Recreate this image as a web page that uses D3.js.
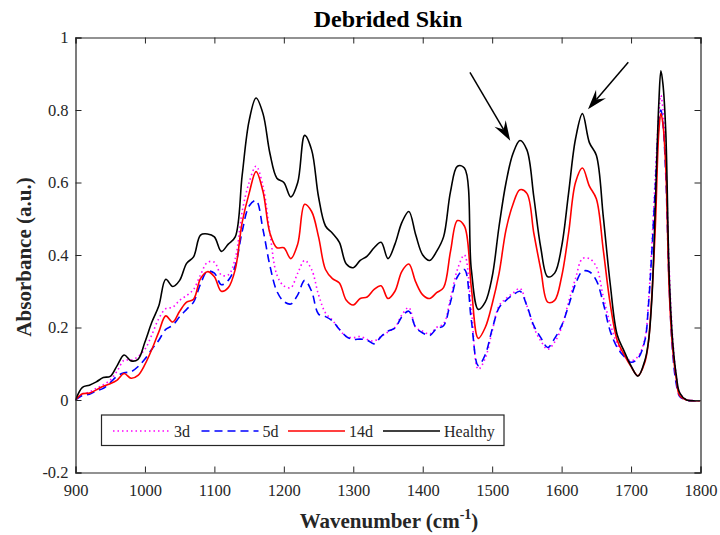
<!DOCTYPE html>
<html>
<head>
<meta charset="utf-8">
<script src="https://cdn.jsdelivr.net/npm/d3@7"></script>
<style>
  body { margin: 0; background: #fff; }
  svg { display: block; }
</style>
</head>
<body>
<div id="chart"></div>
<script>
// wavenumber grid (cm-1)
const wavenumbers = [
  900, 910, 920, 930, 940, 950, 960, 970, 980, 990,
  1000, 1010, 1020, 1030, 1040, 1050, 1060, 1070, 1080, 1090,
  1100, 1110, 1120, 1130, 1140, 1150, 1160, 1170, 1180, 1190,
  1200, 1210, 1220, 1230, 1240, 1250, 1260, 1270, 1280, 1290,
  1300, 1310, 1320, 1330, 1340, 1350, 1360, 1370, 1380, 1390,
  1400, 1410, 1420, 1430, 1440, 1450, 1460, 1470, 1480, 1490,
  1500, 1510, 1520, 1530, 1540, 1550, 1560, 1570, 1580, 1590,
  1600, 1610, 1620, 1630, 1640, 1650, 1660, 1670, 1680, 1690,
  1700, 1710, 1720, 1725, 1730, 1735, 1740, 1743, 1746, 1750,
  1755, 1760, 1765, 1770, 1780, 1790, 1800
];

const d3Values = [
  0, 0.017, 0.022, 0.032, 0.042, 0.055, 0.08, 0.11, 0.11, 0.12,
  0.14, 0.18, 0.225, 0.252, 0.256, 0.275, 0.288, 0.305, 0.345, 0.38,
  0.38, 0.345, 0.345, 0.39, 0.52, 0.60, 0.645, 0.59, 0.46, 0.345,
  0.315, 0.31, 0.35, 0.385, 0.36, 0.29, 0.24, 0.22, 0.195, 0.175,
  0.172, 0.175, 0.167, 0.163, 0.175, 0.188, 0.20, 0.235, 0.255, 0.20,
  0.19, 0.182, 0.20, 0.21, 0.28, 0.36, 0.40, 0.25, 0.085, 0.115,
  0.19, 0.26, 0.28, 0.295, 0.308, 0.26, 0.20, 0.163, 0.14, 0.16,
  0.20, 0.27, 0.335, 0.39, 0.39, 0.368, 0.285, 0.21, 0.155, 0.122,
  0.108, 0.12, 0.17, 0.27, 0.43, 0.62, 0.79, 0.84, 0.80, 0.66,
  0.36, 0.17, 0.07, 0.02, 0, -0.002, -0.002
];

const d5Values = [
  0, 0.013, 0.016, 0.025, 0.032, 0.048, 0.066, 0.075, 0.078, 0.092,
  0.113, 0.14, 0.165, 0.195, 0.206, 0.23, 0.25, 0.27, 0.32, 0.355,
  0.35, 0.318, 0.33, 0.37, 0.465, 0.535, 0.55, 0.47, 0.37, 0.30,
  0.272, 0.265, 0.29, 0.33, 0.30, 0.237, 0.23, 0.218, 0.195, 0.175,
  0.167, 0.168, 0.165, 0.155, 0.175, 0.19, 0.198, 0.23, 0.245, 0.20,
  0.185, 0.178, 0.197, 0.205, 0.27, 0.34, 0.36, 0.22, 0.095, 0.125,
  0.195, 0.255, 0.275, 0.29, 0.30, 0.26, 0.205, 0.172, 0.145, 0.17,
  0.205, 0.26, 0.32, 0.355, 0.354, 0.33, 0.267, 0.19, 0.145, 0.12,
  0.104, 0.115, 0.165, 0.26, 0.41, 0.59, 0.76, 0.80, 0.76, 0.62,
  0.31, 0.13, 0.045, 0.01, 0, -0.002, -0.002
];

const d14Values = [
  0, 0.017, 0.019, 0.028, 0.038, 0.045, 0.055, 0.073, 0.06, 0.068,
  0.098, 0.14, 0.188, 0.232, 0.215, 0.245, 0.27, 0.278, 0.335, 0.354,
  0.34, 0.30, 0.31, 0.36, 0.49, 0.57, 0.63, 0.575, 0.46, 0.42,
  0.42, 0.39, 0.43, 0.54, 0.52, 0.45, 0.36, 0.335, 0.323, 0.275,
  0.262, 0.28, 0.284, 0.305, 0.315, 0.28, 0.30, 0.355, 0.375, 0.325,
  0.29, 0.28, 0.296, 0.31, 0.41, 0.495, 0.48, 0.31, 0.17, 0.20,
  0.265, 0.35, 0.47, 0.54, 0.58, 0.57, 0.46, 0.36, 0.27, 0.275,
  0.34, 0.46, 0.60, 0.64, 0.59, 0.555, 0.414, 0.265, 0.165, 0.125,
  0.092, 0.067, 0.105, 0.16, 0.29, 0.48, 0.74, 0.79, 0.76, 0.64,
  0.30, 0.14, 0.06, 0.012, 0, -0.002, -0.002
];

const healthyValues = [
  0, 0.035, 0.041, 0.05, 0.062, 0.065, 0.095, 0.124, 0.108, 0.112,
  0.16, 0.215, 0.26, 0.333, 0.313, 0.33, 0.377, 0.395, 0.455, 0.458,
  0.45, 0.41, 0.43, 0.45, 0.62, 0.77, 0.833, 0.79, 0.68, 0.612,
  0.60, 0.56, 0.60, 0.73, 0.69, 0.56, 0.48, 0.46, 0.435, 0.375,
  0.365, 0.385, 0.397, 0.42, 0.435, 0.39, 0.43, 0.49, 0.52, 0.455,
  0.40, 0.385, 0.41, 0.45, 0.575, 0.645, 0.64, 0.36, 0.25, 0.27,
  0.34, 0.48, 0.60, 0.68, 0.716, 0.69, 0.56, 0.42, 0.34, 0.35,
  0.423, 0.57, 0.72, 0.79, 0.71, 0.675, 0.506, 0.32, 0.18, 0.135,
  0.094, 0.066, 0.11, 0.16, 0.28, 0.54, 0.82, 0.908, 0.87, 0.74,
  0.34, 0.16, 0.07, 0.02, 0, -0.002, -0.002
];

const seriesNames = ["3d", "5d", "14d", "Healthy"];
const seriesColors = ["#ff00ff", "#0000ff", "#ff0000", "#000000"];
const seriesDash = ["1.5,3", "8,5", null, null];
const seriesValues = [d3Values, d5Values, d14Values, healthyValues];

const xTicks = [900, 1000, 1100, 1200, 1300, 1400, 1500, 1600, 1700, 1800];
const yTicks = [-0.2, 0, 0.2, 0.4, 0.6, 0.8, 1];

// arrows: [fromW, fromA, toW, toA]
const arrows = [
  [1468, 0.904, 1526, 0.715],
  [1696, 0.932, 1638, 0.802]
];

const W = 720, H = 535;
const margin = { left: 75.5, right: 700.5, top: 37.5, bottom: 472.5 };
const serif = '"Liberation Serif", "Times New Roman", serif';

const svg = d3.select("#chart").append("svg")
  .attr("width", W)
  .attr("height", H)
  .attr("font-family", serif);

const x = d3.scaleLinear().domain([900, 1800]).range([margin.left, margin.right]);
const y = d3.scaleLinear().domain([-0.2, 1]).range([margin.bottom, margin.top]);

svg.append("clipPath").attr("id", "plot-clip")
  .append("rect")
  .attr("x", margin.left).attr("y", margin.top)
  .attr("width", margin.right - margin.left).attr("height", margin.bottom - margin.top);

// curves
const line = d3.line()
  .x((d, i) => x(wavenumbers[i]))
  .y(d => y(d))
  .curve(d3.curveCatmullRom.alpha(0.5));

const plot = svg.append("g").attr("clip-path", "url(#plot-clip)");

seriesValues.forEach((vals, k) => {
  plot.append("path")
    .datum(vals)
    .attr("fill", "none")
    .attr("stroke", seriesColors[k])
    .attr("stroke-width", 1.6)
    .attr("stroke-dasharray", seriesDash[k])
    .attr("stroke-linejoin", "round")
    .attr("d", line);
});

// axes (box with inward ticks)
const axisColor = "#262626";
const tickLen = 6;

const gx = svg.append("g").attr("transform", `translate(0,${margin.bottom})`)
  .call(d3.axisBottom(x).tickValues(xTicks).tickSize(-tickLen).tickPadding(12).tickFormat(d3.format("d")));
const gxTop = svg.append("g").attr("transform", `translate(0,${margin.top})`)
  .call(d3.axisTop(x).tickValues(xTicks).tickSize(-tickLen).tickFormat(""));
const gy = svg.append("g").attr("transform", `translate(${margin.left},0)`)
  .call(d3.axisLeft(y).tickValues(yTicks).tickSize(-tickLen).tickPadding(7).tickFormat(d => String(+d.toFixed(1))));
const gyRight = svg.append("g").attr("transform", `translate(${margin.right},0)`)
  .call(d3.axisRight(y).tickValues(yTicks).tickSize(-tickLen).tickFormat(""));

[gx, gxTop, gy, gyRight].forEach(g => {
  g.attr("font-family", serif).attr("font-size", 16.5);
  g.select(".domain").attr("stroke", axisColor).attr("stroke-width", 1.2);
  g.selectAll(".tick line").attr("stroke", axisColor).attr("stroke-width", 1);
  g.selectAll(".tick text").attr("fill", axisColor);
});

// arrows
arrows.forEach(a => {
  const x1 = x(a[0]), y1 = y(a[1]), x2 = x(a[2]), y2 = y(a[3]);
  const ang = Math.atan2(y2 - y1, x2 - x1);
  const len = 20, half = 6.5, notch = 13;
  const bx = x2 - len * Math.cos(ang), by = y2 - len * Math.sin(ang);
  const nx = x2 - notch * Math.cos(ang), ny = y2 - notch * Math.sin(ang);
  const px = -Math.sin(ang), py = Math.cos(ang);
  svg.append("line")
    .attr("x1", x1).attr("y1", y1).attr("x2", nx).attr("y2", ny)
    .attr("stroke", "#000").attr("stroke-width", 1.5);
  svg.append("path")
    .attr("d", `M${x2},${y2} L${bx + half * px},${by + half * py} L${nx},${ny} L${bx - half * px},${by - half * py} Z`)
    .attr("fill", "#000");
});

// legend
const legend = svg.append("g");
legend.append("rect")
  .attr("x", 101.5).attr("y", 415)
  .attr("width", 402.5).attr("height", 30.5)
  .attr("fill", "#fff")
  .attr("stroke", axisColor)
  .attr("stroke-width", 1.2);

const legX = [113, 201.5, 288, 383];
seriesNames.forEach((name, k) => {
  legend.append("line")
    .attr("x1", legX[k]).attr("x2", legX[k] + 57)
    .attr("y1", 431).attr("y2", 431)
    .attr("stroke", seriesColors[k])
    .attr("stroke-width", 1.6)
    .attr("stroke-dasharray", seriesDash[k]);
  legend.append("text")
    .attr("x", legX[k] + 61).attr("y", 436.5)
    .attr("font-size", 16)
    .attr("fill", axisColor)
    .text(name);
});

// title and labels
svg.append("text")
  .attr("x", 388).attr("y", 27)
  .attr("text-anchor", "middle")
  .attr("font-size", 24)
  .attr("font-weight", "bold")
  .attr("fill", "#000")
  .text("Debrided Skin");

const xl = svg.append("text")
  .attr("x", 389).attr("y", 528)
  .attr("text-anchor", "middle")
  .attr("font-size", 21)
  .attr("font-weight", "bold")
  .attr("fill", axisColor);
xl.append("tspan").text("Wavenumber (cm");
xl.append("tspan").attr("dy", -9).attr("font-size", 14).text("-1");
xl.append("tspan").attr("dy", 9).text(")");

svg.append("text")
  .attr("transform", "translate(31,257) rotate(-90)")
  .attr("text-anchor", "middle")
  .attr("font-size", 21)
  .attr("font-weight", "bold")
  .attr("fill", axisColor)
  .text("Absorbance (a.u.)");
</script>
</body>
</html>
